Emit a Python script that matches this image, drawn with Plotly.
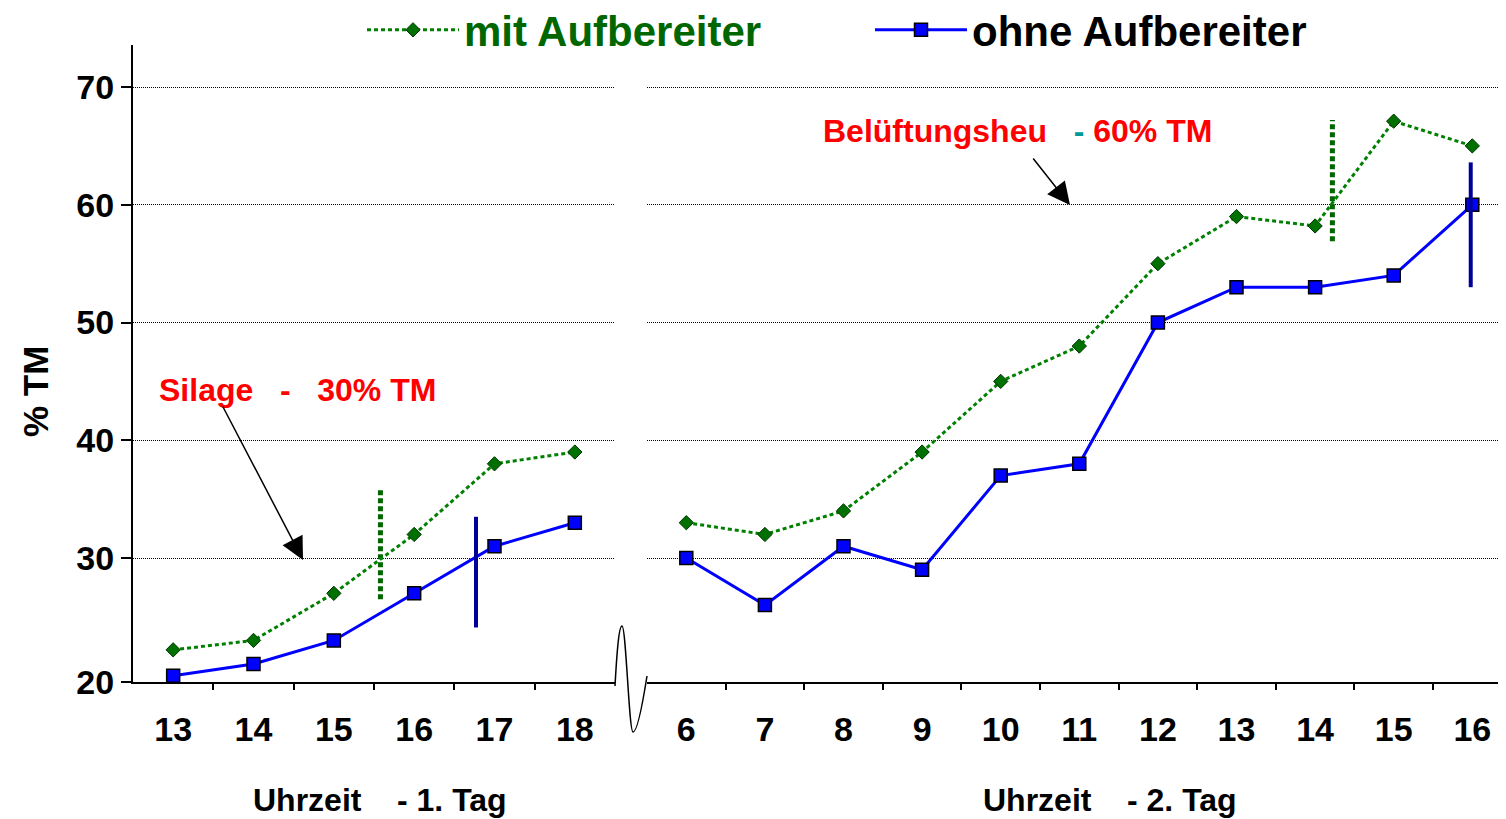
import plotly.graph_objects as go

# The page places the figure 8px from the top-left corner; build it so that
# the visible window (1506x819) matches the reference.
OFF = 8
W, H = 1506 - OFF, 819 - OFF

# ---------------- data ----------------
day1_hours = [13, 14, 15, 16, 17, 18]
day1_mit = [22.2, 23.0, 27.0, 32.0, 38.0, 39.0]
day1_ohne = [20.0, 21.0, 23.0, 27.0, 31.0, 33.0]

day2_hours = [6, 7, 8, 9, 10, 11, 12, 13, 14, 15, 16]
day2_mit = [33.0, 32.0, 34.0, 39.0, 45.0, 48.0, 55.0, 59.0, 58.2, 67.1, 65.0]
day2_ohne = [30.0, 26.0, 31.0, 29.0, 37.0, 38.0, 50.0, 53.0, 53.0, 54.0, 60.0]

# vertical threshold bars (hour position, y extent)
day1_mit_bar_x = [15.58, 15.58]
day1_mit_bar_y = [26.5, 35.8]
day1_ohne_bar_x = [16.77, 16.77]
day1_ohne_bar_y = [24.1, 33.5]
day2_mit_bar_x = [14.22, 14.22]
day2_mit_bar_y = [56.9, 67.2]
day2_ohne_bar_x = [15.98, 15.98]
day2_ohne_bar_y = [53.0, 63.6]

Y_MIN, Y_MAX = 19.47, 73.57
y_tick_labels = ["20", "30", "40", "50", "60", "70"]
y_tick_vals = [Y_MIN, 30, 40, 50, 60, 70]   # "20" sits on the axis line
day1_minor = [13.5, 14.5, 15.5, 16.5, 17.5]
day2_minor = [6.5, 7.5, 8.5, 9.5, 10.5, 11.5, 12.5, 13.5, 14.5, 15.5]

legend_mit = "mit Aufbereiter"
legend_ohne = "ohne Aufbereiter"

# ---------------- helpers ----------------
FONT = "Liberation Sans, Arial, sans-serif"
GREEN = "#008000"
GREEN_DARK = "#006600"
BLUE = "#0000ff"
NAVY = "#000099"


def px(x):
    return (x - OFF) / W


def py(y):
    return (H - (y - OFF)) / H


fig = go.Figure()

mit_line = dict(color=GREEN, width=3, dash="4px,3px")
mit_marker = dict(symbol="diamond", size=11, color="#007000",
                  line=dict(color="#003300", width=1))
ohne_line = dict(color=BLUE, width=3)
ohne_marker = dict(symbol="square", size=13, color=BLUE,
                   line=dict(color="#000000", width=1.5))

# threshold bars (green)
fig.add_trace(go.Scatter(x=day1_mit_bar_x, y=day1_mit_bar_y, mode="lines",
                         line=dict(color=GREEN_DARK, width=5, dash="5px,3px"),
                         xaxis="x", yaxis="y", showlegend=False, hoverinfo="skip"))
fig.add_trace(go.Scatter(x=day2_mit_bar_x, y=day2_mit_bar_y, mode="lines",
                         line=dict(color=GREEN_DARK, width=5, dash="5px,3px"),
                         xaxis="x2", yaxis="y", showlegend=False, hoverinfo="skip"))

# series day 1
fig.add_trace(go.Scatter(x=day1_hours, y=day1_mit, mode="lines+markers",
                         line=mit_line, marker=mit_marker,
                         name="<span style='color:#006600'>" + legend_mit + "</span>",
                         xaxis="x", yaxis="y", legendgroup="mit"))
fig.add_trace(go.Scatter(x=day1_hours, y=day1_ohne, mode="lines+markers",
                         line=ohne_line, marker=ohne_marker,
                         name=legend_ohne, xaxis="x", yaxis="y", legendgroup="ohne"))
# series day 2
fig.add_trace(go.Scatter(x=day2_hours, y=day2_mit, mode="lines+markers",
                         line=mit_line, marker=mit_marker, showlegend=False,
                         xaxis="x2", yaxis="y", legendgroup="mit"))
fig.add_trace(go.Scatter(x=day2_hours, y=day2_ohne, mode="lines+markers",
                         line=ohne_line, marker=ohne_marker, showlegend=False,
                         xaxis="x2", yaxis="y", legendgroup="ohne"))

# threshold bars (blue)
fig.add_trace(go.Scatter(x=day1_ohne_bar_x, y=day1_ohne_bar_y, mode="lines",
                         line=dict(color=NAVY, width=4),
                         xaxis="x", yaxis="y", showlegend=False, hoverinfo="skip"))
fig.add_trace(go.Scatter(x=day2_ohne_bar_x, y=day2_ohne_bar_y, mode="lines",
                         line=dict(color=NAVY, width=4),
                         xaxis="x2", yaxis="y", showlegend=False, hoverinfo="skip"))

tickfont = dict(family=FONT, size=34, color="black", weight="bold")

xcommon = dict(
    showgrid=False, zeroline=False, showline=True, linecolor="black", linewidth=2,
    tickmode="array", ticks="", tickfont=tickfont, ticklabelstandoff=16,
    anchor="y", automargin=False, fixedrange=True,
)

fig.update_layout(
    width=W, height=H, autosize=False, template="none",
    margin=dict(l=0, r=0, t=0, b=0, pad=0, autoexpand=False),
    paper_bgcolor="white", plot_bgcolor="white",
    font=dict(family=FONT, color="black"),
    hovermode=False,
    xaxis=dict(domain=[px(133), px(615)], range=[12.5, 18.5],
               tickvals=day1_hours, ticktext=[str(h) for h in day1_hours],
               minor=dict(tickmode="array", tickvals=day1_minor, ticks="outside",
                          ticklen=6, tickwidth=1.5, tickcolor="black"),
               **xcommon),
    xaxis2=dict(domain=[px(647), 1.0], range=[5.5, 5.5 + (1506 - 647) / 78.6],
                tickvals=day2_hours, ticktext=[str(h) for h in day2_hours],
                minor=dict(tickmode="array", tickvals=day2_minor, ticks="outside",
                           ticklen=6, tickwidth=1.5, tickcolor="black"),
                **xcommon),
    yaxis=dict(domain=[py(682), py(45)], range=[Y_MIN, Y_MAX],
               tickmode="array", tickvals=y_tick_vals, ticktext=y_tick_labels,
               ticks="outside", ticklen=10, tickwidth=2, tickcolor="black",
               tickfont=tickfont, showline=True, linecolor="black", linewidth=2,
               showgrid=True, gridcolor="black", gridwidth=1, griddash="1px,1px",
               zeroline=False, anchor="x", automargin=False, fixedrange=True),
    showlegend=True,
    legend=dict(orientation="h", x=px(362), xanchor="left", y=py(30), yanchor="middle",
                font=dict(family=FONT, size=42, color="black", weight="bold"),
                itemwidth=92, entrywidth=401, entrywidthmode="pixels",
                bgcolor="rgba(0,0,0,0)", traceorder="normal", itemclick=False,
                itemdoubleclick=False),
)

annfont = dict(family=FONT, size=32, weight="bold")
annotations = [
    dict(x=px(157), y=py(390), xref="paper", yref="paper", xanchor="left", yanchor="middle",
         text="Silage\u00a0\u00a0\u00a0-\u00a0\u00a0\u00a030% TM", showarrow=False,
         font=dict(color="#ff0000", **annfont)),
    dict(x=px(303), y=py(560), xref="paper", yref="paper", ax=222 - 303, ay=405 - 560,
         axref="pixel", ayref="pixel", text="", showarrow=True,
         arrowhead=2, arrowsize=3, arrowwidth=1.5, arrowcolor="black"),
    dict(x=px(821), y=py(131), xref="paper", yref="paper", xanchor="left", yanchor="middle",
         text="<span style='color:#ff0000'>Belüftungsheu</span>\u00a0\u00a0\u00a0"
              "<span style='color:#009999'>-</span>\u00a0"
              "<span style='color:#ff0000'>60% TM</span>",
         showarrow=False, font=dict(color="#ff0000", **annfont)),
    dict(x=px(1070), y=py(205), xref="paper", yref="paper", ax=1032 - 1070, ay=157 - 205,
         axref="pixel", ayref="pixel", text="", showarrow=True,
         arrowhead=2, arrowsize=3, arrowwidth=1.5, arrowcolor="black"),
    dict(x=px(380), y=py(800), xref="paper", yref="paper", xanchor="center", yanchor="middle",
         text="Uhrzeit\u00a0\u00a0\u00a0\u00a0-\u00a01. Tag", showarrow=False,
         font=dict(color="black", **annfont)),
    dict(x=px(1110), y=py(800), xref="paper", yref="paper", xanchor="center", yanchor="middle",
         text="Uhrzeit\u00a0\u00a0\u00a0\u00a0-\u00a02. Tag", showarrow=False,
         font=dict(color="black", **annfont)),
    dict(x=px(35), y=py(392), xref="paper", yref="paper", xanchor="center", yanchor="middle",
         text="% TM", textangle=-90, showarrow=False,
         font=dict(family=FONT, size=35, weight="bold", color="black")),
]
fig.update_layout(annotations=annotations)

# axis break squiggle
path = (f"M {px(615)},{py(686)} "
        f"C {px(617)},{py(650)} {px(619)},{py(626)} {px(622)},{py(626)} "
        f"C {px(626)},{py(626)} {px(629)},{py(732)} {px(633)},{py(732)} "
        f"C {px(638)},{py(732)} {px(644)},{py(695)} {px(647)},{py(676)}")
fig.add_shape(type="path", path=path, xref="paper", yref="paper",
              line=dict(color="black", width=1.5))

fig.write_html("out.html")
